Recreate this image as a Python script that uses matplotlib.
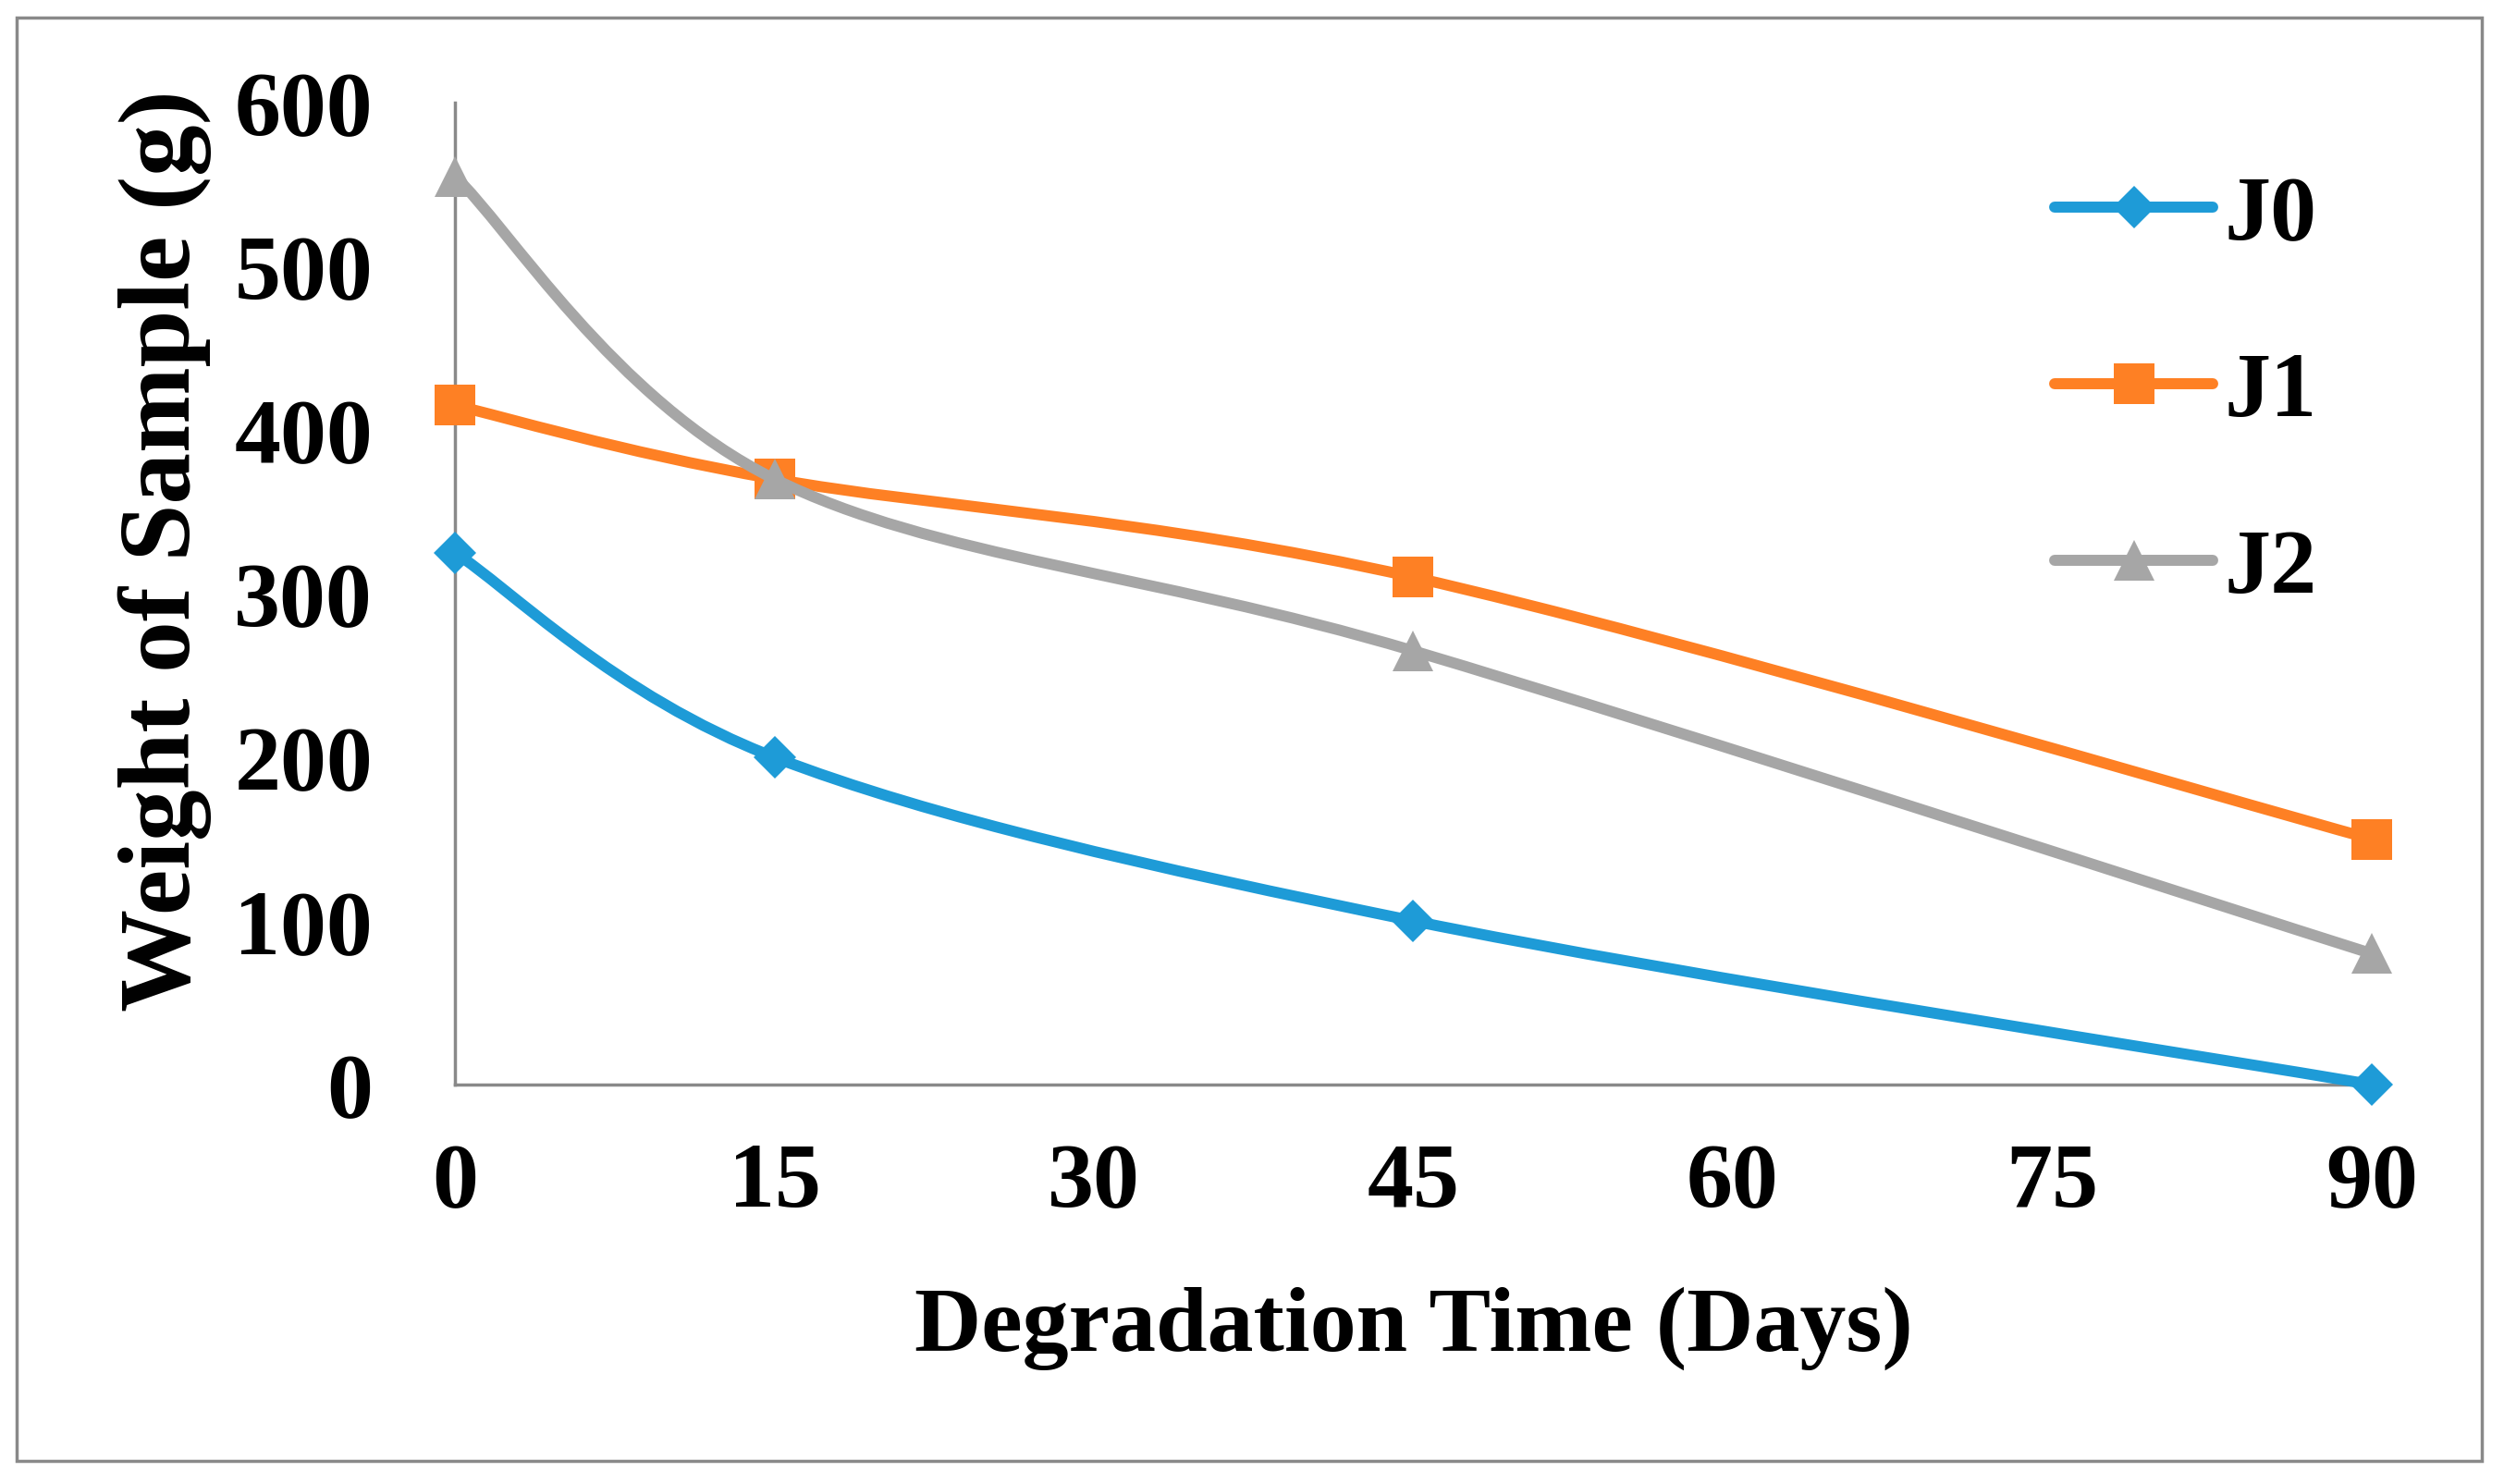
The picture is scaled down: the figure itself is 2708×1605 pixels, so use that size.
import numpy as np
import matplotlib
matplotlib.use("Agg")
import matplotlib.pyplot as plt
from matplotlib.path import Path
from matplotlib.patches import PathPatch, Rectangle
from matplotlib.lines import Line2D

# Data
days = [0, 15, 45, 90]
j0 = [325, 200, 100, 0]
j1 = [415, 370, 310, 150]
j2 = [555, 370, 265, 80]

series_names = ['J0', 'J1', 'J2']
colors = ['#1E9BD7', '#FE8024', '#A6A6A6']
markers = ['D', 's', '^']
marker_sizes = [23, 32, 31]

x_ticks = [0, 15, 30, 45, 60, 75, 90]
y_ticks = [0, 100, 200, 300, 400, 500, 600]

plt.rcParams['font.family'] = 'Liberation Serif'
plt.rcParams['font.weight'] = 'bold'
FS = 72
AXIS_GRAY = '#898989'


def smooth_path(xs, ys):
    # Excel style smoothed line: cubic Bezier through the points (Catmull-Rom)
    pts = np.column_stack([xs, ys]).astype(float)
    n = len(pts)
    verts = [pts[0]]
    codes = [Path.MOVETO]
    for i in range(n - 1):
        p0 = pts[max(i - 1, 0)]
        p1 = pts[i]
        p2 = pts[i + 1]
        p3 = pts[min(i + 2, n - 1)]
        c1 = p1 + (p2 - p0) / 6.0
        c2 = p2 - (p3 - p1) / 6.0
        verts += [c1, c2, p2]
        codes += [Path.CURVE4] * 3
    return Path(verts, codes)


fig = plt.figure(figsize=(27.08, 16.06), dpi=100)
ax = fig.add_axes([492 / 2708, 1 - 1174 / 1606, 2073 / 2708, 1062 / 1606])

# outer chart border
fig.patches.append(Rectangle((18 / 2708, 1 - 1581 / 1606), 2666 / 2708, 1561 / 1606,
                             transform=fig.transFigure, fill=False,
                             edgecolor=AXIS_GRAY, linewidth=2.5))

handles = []
for i, vals in enumerate([j0, j1, j2]):
    patch = PathPatch(smooth_path(days, vals), facecolor='none', edgecolor=colors[i],
                      linewidth=8.6, capstyle='round', joinstyle='round',
                      zorder=3 + i, clip_on=False)
    ax.add_patch(patch)
    ax.plot(days, vals, linestyle='none', marker=markers[i], markersize=marker_sizes[i],
            color=colors[i], markeredgewidth=0, zorder=3 + i, clip_on=False)
    handles.append(Line2D([], [], color=colors[i], linewidth=8.6, marker=markers[i],
                          markersize=marker_sizes[i], markeredgewidth=0,
                          solid_capstyle='round', label=series_names[i]))

ax.set_xlim(0, 90)
ax.set_ylim(0, 600)
ax.set_xticks(x_ticks)
ax.set_yticks(y_ticks)
ax.tick_params(axis='both', length=0, labelsize=FS)
ax.tick_params(axis='y', pad=64)
ax.tick_params(axis='x', pad=45)

for side in ['top', 'right']:
    ax.spines[side].set_visible(False)
for side in ['left', 'bottom']:
    ax.spines[side].set_color(AXIS_GRAY)
    ax.spines[side].set_linewidth(2.5)
    ax.spines[side].set_zorder(2)

ax.set_xlabel('Degradation Time (Days)', fontsize=FS, fontweight='bold')
ax.xaxis.set_label_coords(0.5, -0.205)
ax.set_ylabel('Weight of Sample (g)', fontsize=80, fontweight='bold')
ax.yaxis.set_label_coords(-0.127, 0.545)

fig.legend(handles=handles, loc='center left', bbox_to_anchor=(2222 / 2708, 1 - 426 / 1606),
           bbox_transform=fig.transFigure, frameon=False, fontsize=FS,
           handlelength=1.71, handletextpad=0.13, labelspacing=1.0,
           borderpad=0, borderaxespad=0)

fig.savefig('out.png', dpi=100)
